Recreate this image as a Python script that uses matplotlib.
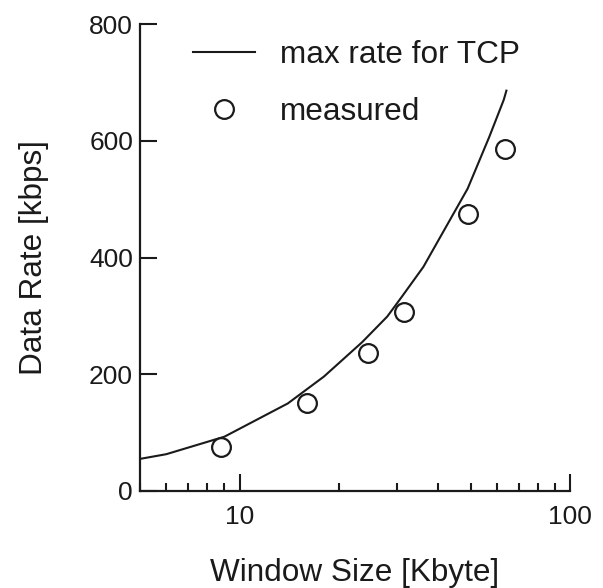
import matplotlib
matplotlib.use("Agg")
import matplotlib.pyplot as plt
from matplotlib.ticker import LogLocator, NullFormatter, FixedLocator

plt.rcParams['font.family'] = ['Liberation Sans', 'DejaVu Sans']

# max rate for TCP
tcpWindow = [5, 6, 9, 14, 18, 23.5, 28, 31, 36, 49, 57, 63, 64.2]
tcpRate = [55, 63, 93, 150, 196, 255, 299, 333, 384, 518, 607, 670, 686]

# measured points
measWindow = [8.8, 16, 24.5, 31.5, 49, 63.5]
measRate = [76, 151, 237, 307, 475, 586]

yTicks = [0, 200, 400, 600, 800]
xTicks = [10, 100]

fig = plt.figure(figsize=(6.03, 5.88), dpi=100)
ax = fig.add_axes([0.2322, 0.165, 0.7131, 0.794])

ax.plot(tcpWindow, tcpRate, color='#1a1a1a', lw=1.5, label='max rate for TCP')
ax.plot(measWindow, measRate, ls='none', marker='o', ms=13.5, mfc='white',
        mec='#1a1a1a', mew=1.6, label='measured')

ax.set_xscale('log')
ax.set_xlim(5, 100)
ax.set_ylim(0, 800)

ax.xaxis.set_major_locator(FixedLocator(xTicks))
ax.xaxis.set_major_formatter(matplotlib.ticker.FixedFormatter(['10', '100']))
ax.xaxis.set_minor_locator(LogLocator(base=10, subs=range(2, 10)))
ax.xaxis.set_minor_formatter(NullFormatter())
ax.set_yticks(yTicks)

for s in ['top', 'right']:
    ax.spines[s].set_visible(False)
for s in ['left', 'bottom']:
    ax.spines[s].set_linewidth(1.6)
    ax.spines[s].set_color('#1a1a1a')

ax.tick_params(axis='both', which='major', direction='in', length=12, width=1.5,
               labelsize=19, colors='#1a1a1a')
ax.tick_params(axis='x', which='minor', direction='in', length=6, width=1.5,
               colors='#1a1a1a')
ax.tick_params(axis='x', which='major', pad=10)
ax.tick_params(axis='y', which='major', pad=5)

ax.set_xlabel('Window Size [Kbyte]', fontsize=22.7, color='#1a1a1a', labelpad=21)
ax.set_ylabel('Data Rate [kbps]', fontsize=22.7, color='#1a1a1a', labelpad=29)

ax.legend(loc='upper left', bbox_to_anchor=(0.124, 0.966), frameon=False,
          fontsize=22.7, handlelength=1.95, handletextpad=0.8,
          labelspacing=0.87, borderpad=0, borderaxespad=0, labelcolor='#1a1a1a')

fig.savefig('out.png', dpi=100)
